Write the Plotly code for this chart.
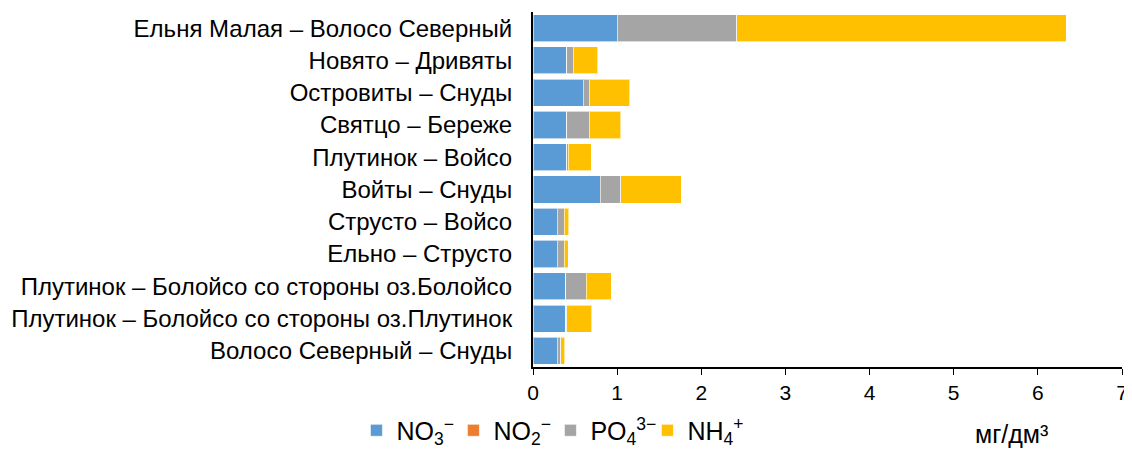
import plotly.graph_objects as go

categories = [
    "Ельня Малая – Волосо Северный",
    "Новято – Дривяты",
    "Островиты – Снуды",
    "Святцо – Береже",
    "Плутинок – Войсо",
    "Войты – Снуды",
    "Струсто – Войсо",
    "Ельно – Струсто",
    "Плутинок – Болойсо со стороны оз.Болойсо",
    "Плутинок – Болойсо со стороны оз.Плутинок",
    "Волосо Северный – Снуды",
]
no3 = [1.00, 0.40, 0.60, 0.40, 0.40, 0.80, 0.29, 0.29, 0.39, 0.39, 0.29]
no2 = [0.0, 0.0, 0.0, 0.0, 0.0, 0.0, 0.0, 0.0, 0.0, 0.0, 0.0]
po4 = [1.42, 0.08, 0.07, 0.27, 0.02, 0.24, 0.08, 0.08, 0.24, 0.01, 0.04]
nh4 = [3.92, 0.29, 0.48, 0.37, 0.27, 0.72, 0.055, 0.05, 0.30, 0.30, 0.05]

series = [
    ("NO<sub>3</sub><sup>−</sup>", no3, "#5B9BD5"),
    ("NO<sub>2</sub><sup>−</sup>", no2, "#ED7D31"),
    ("PO<sub>4</sub><sup>3−</sup>", po4, "#A5A5A5"),
    ("NH<sub>4</sub><sup>+</sup>", nh4, "#FFC000"),
]

fig = go.Figure()
for name, vals, col in series:
    fig.add_trace(go.Bar(
        y=categories, x=vals, name=name, orientation="h",
        marker=dict(color=col, line=dict(color="rgba(255,255,255,0.6)", width=1)),
    ))

W, H = 1124, 442
font = dict(family="Liberation Sans, Arial, sans-serif", size=24, color="#000000")
fig.update_layout(
    barmode="stack",
    bargap=0.16,
    width=W, height=H,
    margin=dict(l=525, r=10, t=4, b=83),
    paper_bgcolor="white", plot_bgcolor="white",
    font=font,
    showlegend=True,
    legend=dict(orientation="h", xref="container", yref="container",
                x=0.31, xanchor="left", y=0.044, yanchor="middle",
                font=dict(size=25), traceorder="normal", itemwidth=30,
                entrywidth=52, tracegroupgap=0),
    xaxis=dict(range=[0, 7], dtick=1, showgrid=False, zeroline=False,
               showline=True, linecolor="black", linewidth=2,
               ticks="outside", ticklen=6, tickcolor="black", tickwidth=1,
               tickfont=dict(size=21), automargin=False),
    yaxis=dict(autorange="reversed", showgrid=False, showline=True,
               linecolor="black", linewidth=2, ticks="", ticklabelstandoff=14,
               tickfont=dict(size=24), automargin=False),
    annotations=[dict(text="мг/дм³", xref="paper", yref="paper", x=0.813, y=-0.19,
                      xanchor="center", yanchor="middle", showarrow=False,
                      font=dict(size=25))],
)
fig.write_html("out.html")
